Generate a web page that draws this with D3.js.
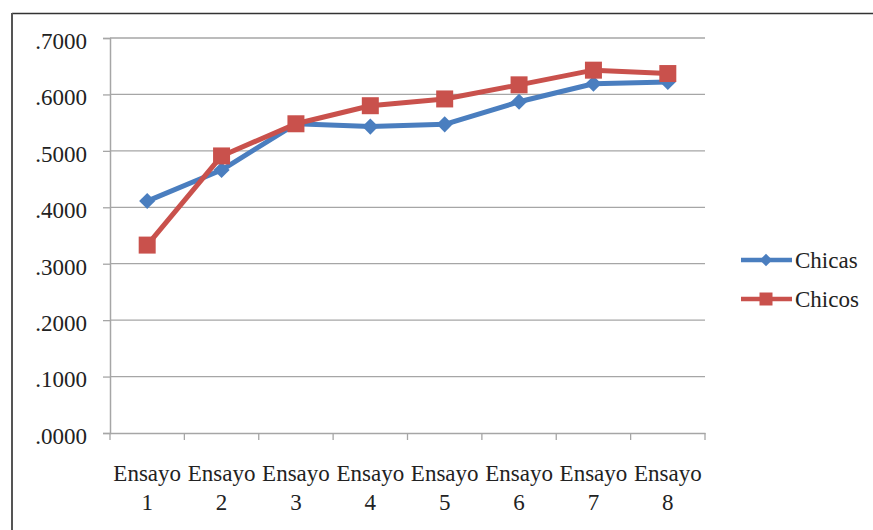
<!DOCTYPE html>
<html>
<head>
<meta charset="utf-8">
<script src="https://cdn.jsdelivr.net/npm/d3@7"></script>
<style>
  html, body { margin: 0; padding: 0; background: #fff; }
  svg { display: block; }
</style>
</head>
<body>
<svg id="chart" width="873" height="530"></svg>
<script>
const categories = ["Ensayo 1", "Ensayo 2", "Ensayo 3", "Ensayo 4", "Ensayo 5", "Ensayo 6", "Ensayo 7", "Ensayo 8"];
const chicas = [0.411, 0.466, 0.548, 0.543, 0.547, 0.587, 0.619, 0.622];
const chicos = [0.333, 0.491, 0.548, 0.580, 0.592, 0.617, 0.643, 0.637];
const yTicks = [0, 0.1, 0.2, 0.3, 0.4, 0.5, 0.6, 0.7];
const seriesNames = ["Chicas", "Chicos"];

(function () {
const FONT = "'Liberation Serif', 'Times New Roman', Times, 'DejaVu Serif', serif";
const svg = d3.select("#chart");
const mLeft = 110, mRight = 705, mTop = 38, mBottom = 433;

// outer frame (top & left visible)
svg.append("line").attr("x1", 12).attr("x2", 873).attr("y1", 13.5).attr("y2", 13.5)
  .attr("stroke", "#333").attr("stroke-width", 1.5);
svg.append("line").attr("x1", 12).attr("x2", 12).attr("y1", 13).attr("y2", 530)
  .attr("stroke", "#555").attr("stroke-width", 2);

const x = d3.scaleBand().domain(categories).range([mLeft, mRight]).padding(0);
const y = d3.scaleLinear().domain([0, 0.7]).range([mBottom, mTop]);

const fmt = v => d3.format(".4f")(v).replace(/^0/, "");

// gridlines
svg.append("g").selectAll("line").data(yTicks.filter(d => d > 0)).join("line")
  .attr("x1", mLeft).attr("x2", mRight)
  .attr("y1", d => y(d)).attr("y2", d => y(d))
  .attr("stroke", "#a6a6a6").attr("stroke-width", 1.3);

// y axis
const yAxis = svg.append("g").attr("transform", `translate(${mLeft},0)`)
  .call(d3.axisLeft(y).tickValues(yTicks).tickFormat(fmt).tickSize(7).tickPadding(16));
yAxis.attr("font-family", null).style("font-family", FONT);
yAxis.select(".domain").attr("stroke", "#a6a6a6").attr("stroke-width", 1.5);
yAxis.selectAll(".tick line").attr("stroke", "#a6a6a6").attr("stroke-width", 1.3);
yAxis.selectAll(".tick text").attr("font-size", 23).attr("dy", "0.45em")
  .style("font-family", FONT).attr("fill", "#222");

// x axis
const xAxis = svg.append("g").attr("transform", `translate(0,${mBottom})`)
  .call(d3.axisBottom(x).tickSize(0).tickFormat(""));
xAxis.select(".domain").attr("stroke", "#a6a6a6").attr("stroke-width", 1.5);
const bounds = categories.map(c => x(c)).concat([x(categories[categories.length - 1]) + x.bandwidth()]);
svg.append("g").selectAll("line").data(bounds).join("line")
  .attr("x1", d => d).attr("x2", d => d).attr("y1", mBottom).attr("y2", mBottom + 7)
  .attr("stroke", "#a6a6a6").attr("stroke-width", 1.3);

const lbl = svg.append("g").selectAll("text").data(categories).join("text")
  .attr("text-anchor", "middle")
  .attr("font-size", 23)
  .style("font-family", FONT).attr("fill", "#222")
  .attr("x", d => x(d) + x.bandwidth() / 2);
lbl.append("tspan").attr("x", d => x(d) + x.bandwidth() / 2).attr("y", 481).text(d => d.split(" ")[0]);
lbl.append("tspan").attr("x", d => x(d) + x.bandwidth() / 2).attr("y", 510).text(d => d.split(" ")[1]);

const colors = ["#4a7ebf", "#c9514c"];
const line = d3.line().x((d, i) => x(categories[i]) + x.bandwidth() / 2).y(d => y(d));
const diamond = d3.symbol().type(d3.symbolDiamond2).size(165);
const square = d3.symbol().type(d3.symbolSquare).size(289);

[chicas, chicos].forEach((vals, si) => {
  svg.append("path").datum(vals).attr("d", line)
    .attr("fill", "none").attr("stroke", colors[si]).attr("stroke-width", 5)
    .attr("stroke-linejoin", "round");
  svg.append("g").selectAll("path").data(vals).join("path")
    .attr("transform", (d, i) => `translate(${x(categories[i]) + x.bandwidth() / 2},${y(d)})`)
    .attr("d", si === 0 ? diamond : square)
    .attr("fill", colors[si]);
});

// legend
const legY = [260, 299];
seriesNames.forEach((name, i) => {
  const g = svg.append("g");
  g.append("line").attr("x1", 741).attr("x2", 792).attr("y1", legY[i]).attr("y2", legY[i])
    .attr("stroke", colors[i]).attr("stroke-width", 4.5);
  g.append("path").attr("transform", `translate(766,${legY[i]})`)
    .attr("d", i === 0 ? d3.symbol().type(d3.symbolDiamond2).size(100)() : d3.symbol().type(d3.symbolSquare).size(169)())
    .attr("fill", colors[i]);
  g.append("text").attr("x", 795).attr("y", legY[i]).attr("dy", "0.35em")
    .style("font-family", FONT).attr("fill", "#222")
    .attr("font-size", 23).text(name);
});
})();
</script>
</body>
</html>
